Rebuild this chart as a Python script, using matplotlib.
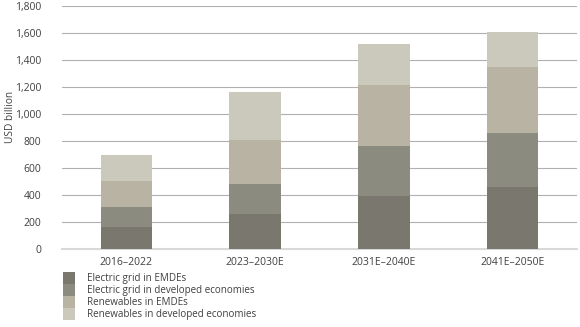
import numpy as np
import matplotlib.pyplot as plt

periods = ["2016\u20132022", "2023\u20132030E", "2031E\u20132040E", "2041E\u20132050E"]
grid_emde = [160, 260, 390, 458]
grid_dev = [150, 220, 375, 401]
ren_emde = [195, 327, 450, 490]
ren_dev = [195, 356, 305, 258]

series = [
    ("Electric grid in EMDEs", grid_emde, "#7a776f"),
    ("Electric grid in developed economies", grid_dev, "#8b8b80"),
    ("Renewables in EMDEs", ren_emde, "#b8b3a3"),
    ("Renewables in developed economies", ren_dev, "#cbc9bc"),
]

plt.rcParams['font.family'] = ['Open Sans', 'DejaVu Sans']

fig = plt.figure(figsize=(5.8, 3.27), dpi=100)
ax = fig.add_axes([62/580, 1 - 249/327, 515/580, 243/327])

x = np.arange(len(periods))
bottom = np.zeros(len(periods))
handles = []
for label, vals, color in series:
    b = ax.bar(x, vals, width=0.4, bottom=bottom, color=color, label=label, zorder=3)
    handles.append(b)
    bottom += np.array(vals)

ax.set_xlim(-0.5, 3.5)
ax.set_ylim(0, 1800)
ax.set_yticks(range(0, 1801, 200))
ax.set_yticklabels([f"{v:,}" for v in range(0, 1801, 200)])
ax.set_xticks(x)
ax.set_xticklabels(periods)
ax.yaxis.grid(True, color="#b0b0b0", linewidth=0.8, zorder=0)
for s in ["top", "right", "left"]:
    ax.spines[s].set_visible(False)
ax.spines["bottom"].set_color("#d9d9d9")
ax.spines["bottom"].set_linewidth(1.5)
ax.tick_params(axis="both", length=0, labelsize=7.5, colors="#404040", pad=6)
ax.tick_params(axis="y", pad=15)
ax.set_ylabel("USD billion", fontsize=7.3, color="#404040")
ax.yaxis.set_label_coords(-0.09, 0.543)

fig.legend(handles=handles, loc="upper left", bbox_to_anchor=(63/580, 1 - 272/327),
           frameon=False, fontsize=7.1, labelspacing=0.0, handlelength=1.22,
           handleheight=1.45, handletextpad=1.2, borderpad=0, borderaxespad=0,
           labelcolor="#404040")

fig.savefig("out.png", dpi=100)
